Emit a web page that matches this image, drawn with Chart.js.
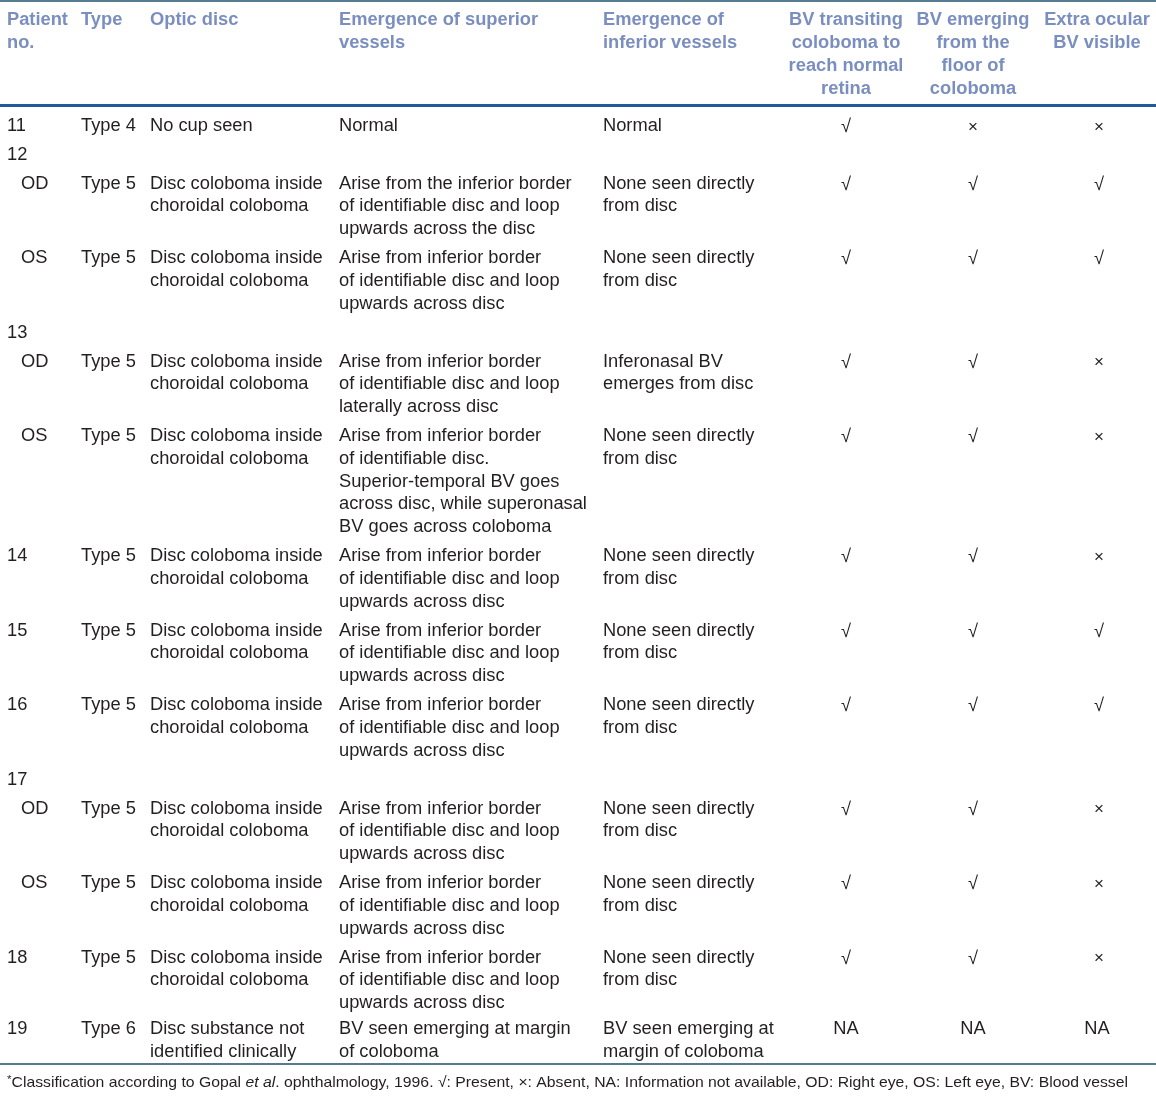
<!DOCTYPE html>
<html>
<head>
<meta charset="utf-8">
<script src="https://cdn.jsdelivr.net/npm/chart.js@4.4.1/dist/chart.umd.min.js"></script>
<style>
  html, body { margin: 0; padding: 0; background: #fff; }
  #wrap { width: 1156px; height: 1097px; position: relative; }
</style>
</head>
<body>
<div id="wrap"><canvas id="tableChart"></canvas></div>
<script>
// Column headings
const headers = [
    "Patient\nno.",
    "Type",
    "Optic disc",
    "Emergence of superior\nvessels",
    "Emergence of\ninferior vessels",
    "BV transiting\ncoloboma to\nreach normal\nretina",
    "BV emerging\nfrom the\nfloor of\ncoloboma",
    "Extra ocular\nBV visible"
];

// Table rows
const patientNo = ["11", "12", "OD", "OS", "13", "OD", "OS", "14", "15", "16", "17", "OD", "OS", "18", "19"];
const types = ["Type 4", "", "Type 5", "Type 5", "", "Type 5", "Type 5", "Type 5", "Type 5", "Type 5", "", "Type 5", "Type 5", "Type 5", "Type 6"];
const opticDisc = [
    "No cup seen", "",
    "Disc coloboma inside\nchoroidal coloboma",
    "Disc coloboma inside\nchoroidal coloboma", "",
    "Disc coloboma inside\nchoroidal coloboma",
    "Disc coloboma inside\nchoroidal coloboma",
    "Disc coloboma inside\nchoroidal coloboma",
    "Disc coloboma inside\nchoroidal coloboma",
    "Disc coloboma inside\nchoroidal coloboma", "",
    "Disc coloboma inside\nchoroidal coloboma",
    "Disc coloboma inside\nchoroidal coloboma",
    "Disc coloboma inside\nchoroidal coloboma",
    "Disc substance not\nidentified clinically"
];
const superiorVessels = [
    "Normal", "",
    "Arise from the inferior border\nof identifiable disc and loop\nupwards across the disc",
    "Arise from inferior border\nof identifiable disc and loop\nupwards across disc", "",
    "Arise from inferior border\nof identifiable disc and loop\nlaterally across disc",
    "Arise from inferior border\nof identifiable disc.\nSuperior-temporal BV goes\nacross disc, while superonasal\nBV goes across coloboma",
    "Arise from inferior border\nof identifiable disc and loop\nupwards across disc",
    "Arise from inferior border\nof identifiable disc and loop\nupwards across disc",
    "Arise from inferior border\nof identifiable disc and loop\nupwards across disc", "",
    "Arise from inferior border\nof identifiable disc and loop\nupwards across disc",
    "Arise from inferior border\nof identifiable disc and loop\nupwards across disc",
    "Arise from inferior border\nof identifiable disc and loop\nupwards across disc",
    "BV seen emerging at margin\nof coloboma"
];
const inferiorVessels = [
    "Normal", "",
    "None seen directly\nfrom disc",
    "None seen directly\nfrom disc", "",
    "Inferonasal BV\nemerges from disc",
    "None seen directly\nfrom disc",
    "None seen directly\nfrom disc",
    "None seen directly\nfrom disc",
    "None seen directly\nfrom disc", "",
    "None seen directly\nfrom disc",
    "None seen directly\nfrom disc",
    "None seen directly\nfrom disc",
    "BV seen emerging at\nmargin of coloboma"
];
const transiting = ["√", "", "√", "√", "", "√", "√", "√", "√", "√", "", "√", "√", "√", "NA"];
const fromFloor  = ["×", "", "√", "√", "", "√", "√", "√", "√", "√", "", "√", "√", "√", "NA"];
const extraOcular = ["×", "", "√", "√", "", "×", "×", "×", "√", "√", "", "×", "×", "×", "NA"];

// Layout
const W = 1156, H = 1097;
const colX = [7, 81, 150, 339, 603, 846, 973, 1097];
const colAlign = ["left", "left", "left", "left", "left", "center", "center", "center"];
const lineH = 22.8, rowPad = 6.1, bodyTop = 111.4;
const textColor = "#231f20";
const headColor = "#7a8ec0";
const font = "Liberation Sans, Arial, sans-serif";

const columns = [patientNo, types, opticDisc, superiorVessels, inferiorVessels, transiting, fromFloor, extraOcular];

// row tops from line counts
const rowTops = [];
let acc = bodyTop;
patientNo.forEach((p, r) => {
    rowTops.push(acc);
    const n = Math.max(1, ...columns.map(col => col[r] ? col[r].split("\n").length : 1));
    acc += n * lineH + rowPad;
});

// one point per cell
const cells = [];
columns.forEach((col, c) => {
    col.forEach((txt, r) => {
        if (!txt) return;
        let x = colX[c];
        if (c === 0 && (txt === "OD" || txt === "OS")) x += 14;
        if (c === 7 && txt !== "NA") x += 2;
        // last row sits a little higher in the original
        const yAdj = r === patientNo.length - 1 ? -3 : 0;
        cells.push({ x: x, y: rowTops[r] + rowPad / 2 + lineH / 2 + yAdj, text: txt, col: c });
    });
});

const tablePlugin = {
    id: "tablePlugin",
    afterDraw(chart) {
        const ctx = chart.ctx;
        const xs = chart.scales.x, ys = chart.scales.y;
        ctx.save();

        // rules
        const rule = (y, w, color) => {
            ctx.strokeStyle = color;
            ctx.lineWidth = w;
            ctx.beginPath();
            ctx.moveTo(xs.getPixelForValue(0), ys.getPixelForValue(y));
            ctx.lineTo(xs.getPixelForValue(W), ys.getPixelForValue(y));
            ctx.stroke();
        };
        rule(1, 1.5, "#1d4f6a");
        rule(105.5, 3.2, "#1f5b97");
        rule(1064, 1.5, "#1d4f6a");

        // header
        ctx.fillStyle = headColor;
        ctx.font = "bold 18.3px " + font;
        ctx.textBaseline = "middle";
        headers.forEach((h, c) => {
            ctx.textAlign = colAlign[c];
            h.split("\n").forEach((line, k) => {
                ctx.fillText(line, xs.getPixelForValue(colX[c]), ys.getPixelForValue(20 + k * 23));
            });
        });

        // body cells
        const meta = chart.getDatasetMeta(0);
        ctx.fillStyle = textColor;
        meta.data.forEach((pt, i) => {
            const cell = cells[i];
            ctx.textAlign = colAlign[cell.col];
            const isMark = cell.text === "√" || cell.text === "×";
            ctx.font = (cell.text === "×" ? "17px " : "18.3px ") + font;
            cell.text.split("\n").forEach((line, k) => {
                ctx.fillText(line, pt.x, pt.y + k * lineH + (isMark ? 1 : 0));
            });
        });

        // footnote
        ctx.textAlign = "left";
        const fy = ys.getPixelForValue(1083);
        const fx = xs.getPixelForValue(7);
        const parts = [
            ["*", "11px " + font, -3],
            ["Classification according to Gopal ", "15px " + font, 0],
            ["et al", "italic 15px " + font, 0],
            [". ophthalmology, 1996. √: Present, ×: Absent, NA: Information not available, OD: Right eye, OS: Left eye, BV: Blood vessel", "15px " + font, 0]
        ];
        let total = 0;
        parts.forEach(p => { ctx.font = p[1]; total += ctx.measureText(p[0]).width; });
        const sx = (xs.getPixelForValue(1128) - fx) / total;
        ctx.translate(fx, fy);
        ctx.scale(sx, 1);
        let off = 0;
        parts.forEach(p => {
            ctx.font = p[1];
            ctx.fillText(p[0], off, p[2]);
            off += ctx.measureText(p[0]).width;
        });
        ctx.restore();
    }
};

const chart = new Chart(document.getElementById("tableChart").getContext("2d"), {
    type: "scatter",
    data: {
        datasets: [{
            data: cells.map(c => ({ x: c.x, y: c.y })),
            pointRadius: 0,
            pointHoverRadius: 0
        }]
    },
    options: {
        responsive: true,
        maintainAspectRatio: false,
        animation: false,
        layout: { padding: 0 },
        plugins: { legend: { display: false }, tooltip: { enabled: false } },
        scales: {
            x: { type: "linear", min: 0, max: W, display: false },
            y: { type: "linear", min: 0, max: H, reverse: true, display: false }
        }
    },
    plugins: [tablePlugin]
});
</script>
</body>
</html>
